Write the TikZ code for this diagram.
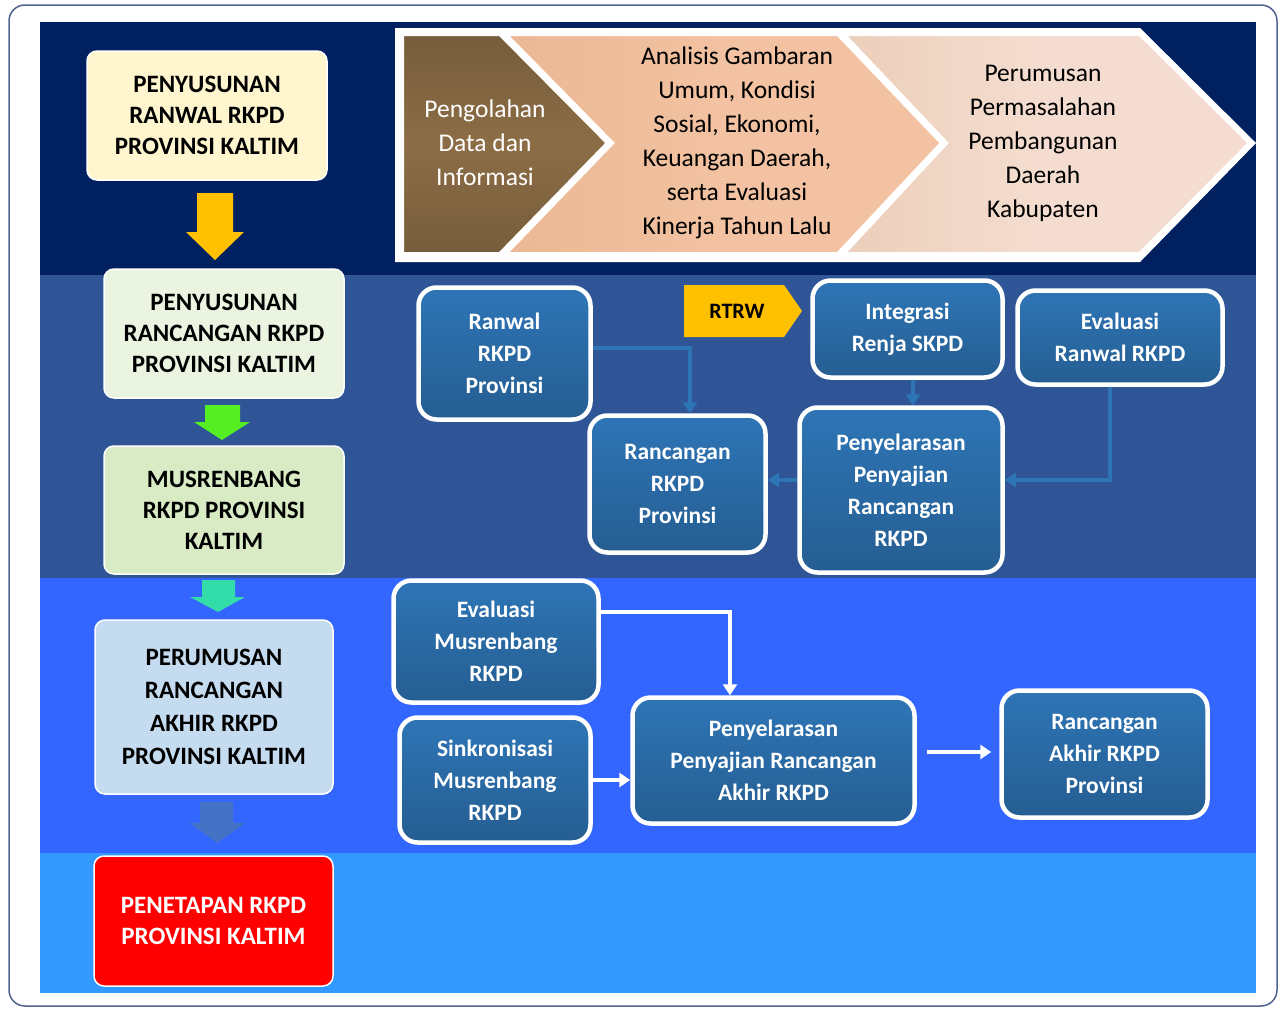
\documentclass[tikz,border=0pt]{standalone}
\usepackage{fontspec}
\setmainfont{Carlito}
\usetikzlibrary{arrows.meta}
\definecolor{navy}{HTML}{002060}
\definecolor{bandtwo}{HTML}{2F5597}
\definecolor{bandthree}{HTML}{3366FF}
\definecolor{bandfour}{HTML}{3399FF}
\definecolor{boxblue}{HTML}{2E75B6}
\definecolor{cream}{HTML}{FFF5CE}
\definecolor{lgreenA}{HTML}{EAF4E0}
\definecolor{lgreenB}{HTML}{D8EBC4}
\definecolor{lblue}{HTML}{C5DCF0}
\definecolor{brownc}{HTML}{8C6D46}
\definecolor{peach}{HTML}{F2C2A2}
\definecolor{lpeach}{HTML}{F4DDD0}
\definecolor{yellowA}{HTML}{FFC000}
\definecolor{greenA}{HTML}{55EE22}
\definecolor{tealA}{HTML}{33DDAA}
\definecolor{blueA}{HTML}{4472C4}
\definecolor{framec}{HTML}{51648F}
\begin{document}
\begin{tikzpicture}[x=1pt,y=-1pt,
  leftbox/.style={rounded corners=10pt, draw=white, line width=1.5pt, align=center, inner sep=0pt,
     font=\fontsize{25}{31}\selectfont\bfseries},
  bluebox/.style={draw=white, line width=4.5pt, rounded corners=18pt, text=white,
     top color=boxblue, middle color=boxblue, bottom color=boxblue!80!black,
     align=center, inner sep=0pt, font=\fontsize{23.5}{32}\selectfont\bfseries},
  chevtext/.style={align=center, inner sep=0pt, font=\fontsize{25.5}{34}\selectfont},
  chevshape/.style={draw=white, line width=4pt, line join=miter},
  bline/.style={draw=boxblue, line width=3.5pt, -{Triangle[width=14pt,length=11pt]}},
  wline/.style={draw=white, line width=3.5pt, -{Triangle[width=14pt,length=11pt]}}
]
\useasboundingbox (0,0) rectangle (1284,1009);
% outer frame
\draw[framec, line width=1.5pt, fill=white, rounded corners=16pt] (9,5) rectangle (1277,1006);
% bands
\fill[navy] (40,22) rectangle (1256,275);
\fill[bandtwo] (40,275) rectangle (1256,578);
\fill[bandthree] (40,578) rectangle (1256,853);
\fill[bandfour] (40,853) rectangle (1256,993);

% chevron panel
\fill[white] (395,28) -- (1140,28) -- (1256,143) -- (1140,262) -- (395,262) -- cycle;
\path[chevshape, top color=brownc!85!black, bottom color=brownc!85!black, middle color=brownc]
  (402,34) -- (500,34) -- (608,143) -- (500,254) -- (402,254) -- cycle;
\path[chevshape, left color=peach!85!brown, right color=peach, middle color=peach]
  (505,34) -- (838,34) -- (942,143) -- (838,254) -- (505,254) -- (612,143) -- cycle;
\path[chevshape, left color=lpeach!85!brown, right color=lpeach, middle color=lpeach]
  (843,34) -- (1140,34) -- (1250,143) -- (1140,254) -- (843,254) -- (946,143) -- cycle;
\node[chevtext, text=white] (t1) at (485,143) {Pengolahan\\Data dan\\Informasi};
\node[chevtext] (t2) at (737,143) {Analisis Gambaran\\Umum, Kondisi\\Sosial, Ekonomi,\\Keuangan Daerah,\\serta Evaluasi\\Kinerja Tahun Lalu};
\node[chevtext] (t3) at (1043,143) {Perumusan\\Permasalahan\\Pembangunan\\Daerah\\Kabupaten};

% left column
\node[leftbox, fill=cream, minimum width=240pt, minimum height=129pt] (b1) at (207,115.5) {PENYUSUNAN\\RANWAL RKPD\\PROVINSI KALTIM};
\node[leftbox, fill=lgreenA, minimum width=240pt, minimum height=129pt] (b2) at (224,333.5) {PENYUSUNAN\\RANCANGAN RKPD\\PROVINSI KALTIM};
\node[leftbox, fill=lgreenB, minimum width=240pt, minimum height=128pt] (b3) at (224,510) {MUSRENBANG\\RKPD PROVINSI\\KALTIM};
\node[leftbox, fill=lblue, minimum width=238pt, minimum height=174pt, font=\fontsize{25}{33}\selectfont\bfseries] (b4) at (214,707) {PERUMUSAN\\RANCANGAN\\AKHIR RKPD\\PROVINSI KALTIM};
\node[leftbox, fill=red, text=white, minimum width=239pt, minimum height=130pt] (b5) at (213.5,921) {PENETAPAN RKPD\\PROVINSI KALTIM};

% fat arrows
\fill[yellowA] (197,193) -- (233,193) -- (233,232) -- (244,232) -- (215,260) -- (186,232) -- (197,232) -- cycle;
\fill[greenA] (205,405) -- (240,405) -- (240,422) -- (250,422) -- (222,440) -- (194,422) -- (205,422) -- cycle;
\fill[tealA] (202,580) -- (235,580) -- (235,597) -- (245,597) -- (218,612) -- (190,597) -- (202,597) -- cycle;
\fill[blueA] (200,802) -- (233,802) -- (233,823) -- (245,823) -- (217,843) -- (190,823) -- (200,823) -- cycle;

% band 2 boxes
\node[bluebox, minimum width=172pt, minimum height=132pt] (n1) at (504.5,353.5) {Ranwal\\RKPD\\Provinsi};
\fill[yellowA] (684,285) -- (784,285) -- (802,311) -- (784,337) -- (684,337) -- cycle;
\node[font=\fontsize{22}{26}\selectfont\bfseries, inner sep=0pt] (rtrw) at (737,311) {RTRW};
\node[bluebox, minimum width=190pt, minimum height=97pt] (n2) at (907.5,329) {Integrasi\\Renja SKPD};
\node[bluebox, minimum width=205pt, minimum height=94pt] (n3) at (1120,337.5) {Evaluasi\\Ranwal RKPD};
\node[bluebox, minimum width=176pt, minimum height=137pt] (n4) at (677.5,484) {Rancangan\\RKPD\\Provinsi};
\node[bluebox, minimum width=203pt, minimum height=165pt] (n5) at (901,490) {Penyelarasan\\Penyajian\\Rancangan\\RKPD};

% band 2 connectors
\draw[bline] ([yshift=5.5pt]n1.east) -| ([xshift=12.5pt]n4.north);
\draw[bline] ([xshift=5.5pt]n2.south) -- ([xshift=5.5pt]n2.south |- n5.north);
\draw[bline] ([xshift=-10pt]n3.south) |- ([yshift=10pt]n5.east);
\draw[bline] ([yshift=10pt]n5.west) -- ([yshift=10pt]n5.west -| n4.east);

% band 3 boxes
\node[bluebox, minimum width=205pt, minimum height=122pt] (m1) at (496,641.5) {Evaluasi\\Musrenbang\\RKPD};
\node[bluebox, minimum width=191pt, minimum height=125pt] (m2) at (495,780) {Sinkronisasi\\Musrenbang\\RKPD};
\node[bluebox, minimum width=282pt, minimum height=126pt] (m3) at (773.5,760.5) {Penyelarasan\\Penyajian Rancangan\\Akhir RKPD};
\node[bluebox, minimum width=206pt, minimum height=127pt] (m4) at (1104.5,754) {Rancangan\\Akhir RKPD\\Provinsi};

% band 3 connectors
\draw[wline] ([yshift=29.5pt]m1.east) -| ([xshift=-43.5pt]m3.north);
\draw[wline] (m2.east) -- (m2.east -| m3.west);
\draw[wline, shorten <=10pt, shorten >=8pt] ([yshift=8.5pt]m3.east) -- ([yshift=8.5pt]m3.east -| m4.west);
\end{tikzpicture}
\end{document}
